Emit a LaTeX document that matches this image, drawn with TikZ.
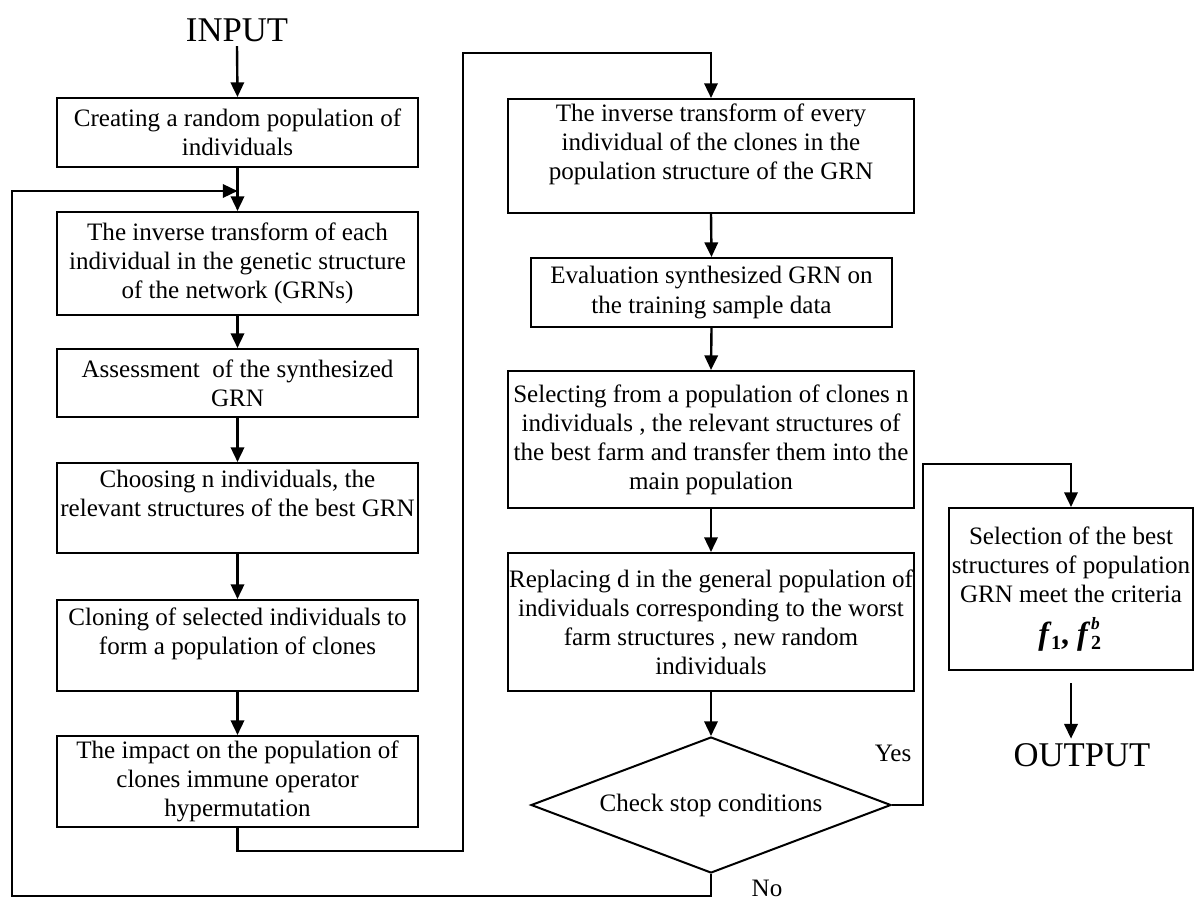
\documentclass[tikz,border=0pt]{standalone}
\usepackage{fontspec}
\setmainfont{Liberation Serif}
\usetikzlibrary{arrows.meta,shapes.geometric}
\begin{document}
\begin{tikzpicture}[x=0.75pt,y=-0.75pt,
  box/.style={draw, line width=1.5pt, align=center, inner sep=0pt,
    font=\fontsize{18.8pt}{21.8pt}\selectfont},
  lw/.style={minimum width=270.75pt},
  ww/.style={minimum width=304.5pt},
  arr/.style={line width=1.8pt, -{Triangle[length=11pt,width=10pt]}},
  big/.style={font=\fontsize{26pt}{30pt}\selectfont},
  lbl/.style={font=\fontsize{18.8pt}{21.8pt}\selectfont}]
\useasboundingbox (0,0) rectangle (1194,903);

% left column
\node[big] (in) at (237,30) {INPUT};
\node[box,lw,minimum height=51.75pt] (b1) at (237.5,132.5)
  {Creating a random population of\\individuals};
\node[box,lw,minimum height=77.25pt] (b2) at (237.5,263.5)
  {The inverse transform of each\\individual in the genetic structure\\of the network (GRNs)};
\node[box,lw,minimum height=51pt] (b3) at (237.5,383)
  {Assessment\ \ of the synthesized\\GRN};
\node[box,lw,minimum height=67.5pt] (b4) at (237.5,508)
  {Choosing n individuals, the\\relevant structures of the best GRN\\\mbox{}};
\node[box,lw,minimum height=68.25pt] (b5) at (237.5,645.5)
  {Cloning of selected individuals to\\form a population of clones\\\mbox{}};
\node[box,lw,minimum height=68.25pt] (b6) at (237.5,781.5)
  {The impact on the population of\\clones immune operator\\hypermutation};

% middle column
\node[box,ww,minimum height=85.5pt] (b7) at (711,156)
  {The inverse transform of every\\individual of the clones in the\\population structure of the GRN\\\mbox{}};
\node[box,lw,minimum height=51.75pt] (b8) at (711.5,292.5)
  {Evaluation synthesized GRN on\\the training sample data};
\node[box,ww,minimum height=102.75pt] (b9) at (711,439.5)
  {Selecting from a population of clones n\\individuals , the relevant structures of\\the best farm and transfer them into the\\main population};
\node[box,ww,minimum height=103.5pt] (b10) at (711,622)
  {Replacing d in the general population of\\individuals corresponding to the worst\\farm structures , new random\\individuals};
\node[box,diamond,aspect=2.65,minimum width=270pt,minimum height=102pt] (dia) at (711,805)
  {Check stop conditions};

% right column
\node[box,minimum width=183pt,minimum height=121.5pt] (b11) at (1071,589)
  {Selection of the best\\structures of population\\GRN meet the criteria\\[9pt]
   {\fontsize{24pt}{26pt}\selectfont\bfseries\itshape f\kern1.5pt\raisebox{-4pt}{\fontsize{15pt}{15pt}\selectfont\upshape 1}\upshape,\ \itshape f\kern2.5pt\rlap{\raisebox{11pt}{\fontsize{13pt}{13pt}\selectfont b}}\raisebox{-4pt}{\fontsize{15pt}{15pt}\selectfont\upshape 2}\kern2pt}};
\node[big] (out) at (1082,755) {OUTPUT};

% labels
\node[lbl] (yes) at (893,753) {Yes};
\node[lbl] (no) at (767,888) {No};

% helper coordinates
\coordinate (j1) at (237.5,191);
\coordinate (fbl) at (12,896);
\coordinate (fbt) at (12,191);
\coordinate (c1) at (463,851);
\coordinate (c2) at (463,53);
\coordinate (c3) at (923,464);

% connectors
\draw[arr] (in.south) -- (b1.north);
\draw[arr] (b1.south) -- (b2.north);
\draw[arr] (b2.south) -- (b3.north);
\draw[arr] (b3.south) -- (b4.north);
\draw[arr] (b4.south) -- (b5.north);
\draw[arr] (b5.south) -- (b6.north);
\draw[arr] (b6.south) |- (c1) -- (c2) -| (b7.north);
\draw[arr] (b7.south) -- (b8.north);
\draw[arr] (b8.south) -- (b9.north);
\draw[arr] (b9.south) -- (b10.north);
\draw[arr] (b10.south) -- (dia.north);
\draw[arr] (dia.east) -| (c3) -| (b11.north);
\draw[arr] (dia.south) |- (fbl) -- (fbt) -- (j1);
\draw[arr, shorten <=9pt] (b11.south) -- (b11.south |- out.north);
\end{tikzpicture}
\end{document}
